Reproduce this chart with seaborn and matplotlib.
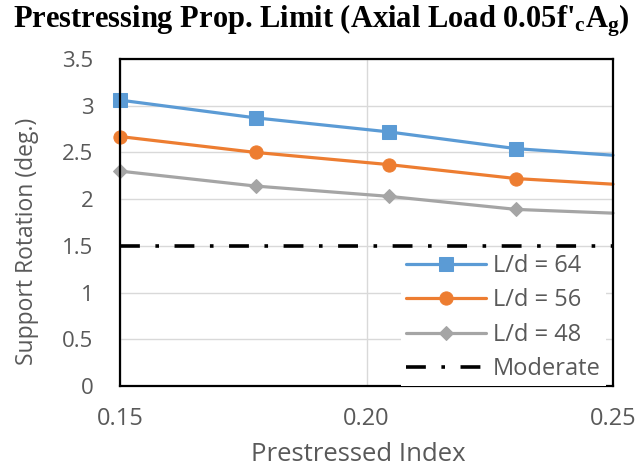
import matplotlib
matplotlib.use("Agg")
import matplotlib.pyplot as plt
import seaborn as sns
import pandas as pd

# ---- data ----
prestress_index = [0.15, 0.1775, 0.2045, 0.2304, 0.25]
rot_ld64 = [3.06, 2.87, 2.72, 2.54, 2.47]
rot_ld56 = [2.67, 2.50, 2.37, 2.22, 2.16]
rot_ld48 = [2.30, 2.14, 2.03, 1.89, 1.85]
moderate_limit = 1.5
series_labels = ["L/d = 64", "L/d = 56", "L/d = 48"]
x_ticks = [0.15, 0.20, 0.25]
x_tick_labels = ["0.15", "0.20", "0.25"]
y_ticks = [0, 0.5, 1, 1.5, 2, 2.5, 3, 3.5]
y_tick_labels = ["0", "0.5", "1", "1.5", "2", "2.5", "3", "3.5"]

sns.set_theme(style="white")
plt.rcParams['font.family'] = ['Open Sans', 'DejaVu Sans']

TXT = "#595959"
colors = ["#5B9BD5", "#ED7D31", "#A5A5A5"]
markers = ["s", "o", "D"]
msizes = [10.5, 9.5, 7]

W, H = 638, 472
L, R, T, B = 120, 613, 59, 386
fig = plt.figure(figsize=(W / 100, H / 100), dpi=100)
ax = fig.add_axes([L / W, 1 - B / H, (R - L) / W, (B - T) / H])

for vals, lab, c, m, ms in zip([rot_ld64, rot_ld56, rot_ld48], series_labels, colors, markers, msizes):
    df = pd.DataFrame({"x": prestress_index, "y": vals})
    sns.lineplot(data=df, x="x", y="y", ax=ax, color=c, lw=2.3, marker=m, markersize=ms,
                 markeredgecolor=c, markevery=[0, 1, 2, 3], label=lab, clip_on=False)

ax.axhline(moderate_limit, color="black", lw=2.6, dashes=(5.5, 4.3, 1, 4.3), label="Moderate",
           zorder=6)

ax.set_xlim(0.15, 0.25)
ax.set_ylim(0, 3.5)
ax.set_xticks(x_ticks)
ax.set_xticklabels(x_tick_labels)
ax.set_yticks(y_ticks)
ax.set_yticklabels(y_tick_labels)
ax.tick_params(axis="both", length=0, labelcolor=TXT)
ax.tick_params(axis="y", labelsize=16, pad=19)
ax.tick_params(axis="x", labelsize=17, pad=15)
ax.grid(True, color="#D9D9D9", lw=1)
ax.set_axisbelow(True)
for s in ax.spines.values():
    s.set_visible(True)
    s.set_color("black")
    s.set_linewidth(1.6)

ax.set_xlabel("Prestressed Index", fontsize=18.5, color=TXT)
ax.xaxis.set_label_coords(0.483, -0.172)
ax.set_ylabel("Support Rotation (deg.)", fontsize=16.5, color=TXT)
ax.yaxis.set_label_coords(-0.165, 0.443)

fig.suptitle(r"Prestressing Prop. Limit (Axial Load 0.05f'$\mathregular{_c}$A$\mathregular{_g}$)",
             x=0.503, y=0.995, fontsize=22, fontweight="bold", family="Liberation Serif", color="black")

leg = ax.legend(loc="lower right", bbox_to_anchor=(0.985, 0.0), frameon=True, fancybox=False,
                borderaxespad=0.0, fontsize=17, handlelength=3.4, labelcolor=TXT, borderpad=0.2,
                labelspacing=0.44, handletextpad=0.3)
leg.get_frame().set_edgecolor("none")
leg.get_frame().set_facecolor("white")
leg.get_frame().set_alpha(1)
leg.set_zorder(5)

fig.savefig("out.png", dpi=100)
